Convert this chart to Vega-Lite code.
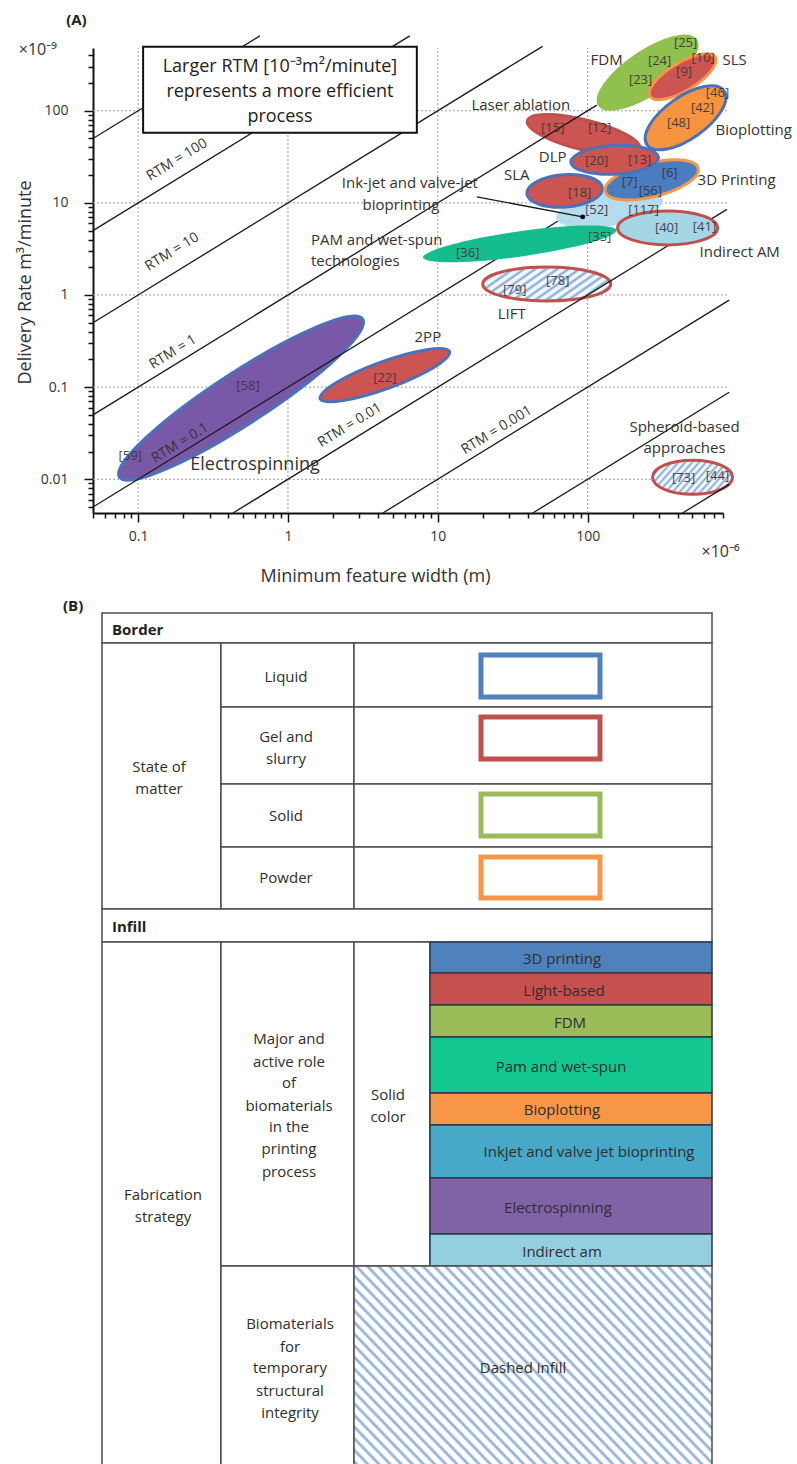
{
"$schema":"https://vega.github.io/schema/vega-lite/v6.json",
"width":797,"height":1464,"autosize":{"type":"none"},"padding":0,"background":"#ffffff",
"config":{"view":{"stroke":null},"font":"Open Sans"},
"datasets":{
"ellipses":[
{"tech":"Electrospinning","w":0.4861,"d":0.07596,"infill":"Electrospinning","border":"Liquid"},
{"tech":"2PP","w":4.433,"d":0.1351,"infill":"Light-based","border":"Liquid"},
{"tech":"Laser ablation","w":94.03,"d":54.84,"infill":"Light-based","border":"Gel"},
{"tech":"LIFT","w":53.3,"d":1.317,"infill":"Dashed","border":"Gel"},
{"tech":"Spheroid-based","w":501.2,"d":0.01051,"infill":"Dashed","border":"Gel"},
{"tech":"Inkjet","w":140,"d":8.6,"infill":"Inkjet","border":"None"},
{"tech":"PAM","w":35.2,"d":3.583,"infill":"PAM","border":"None"},
{"tech":"Indirect AM","w":341.5,"d":5.349,"infill":"Indirect AM","border":"Gel"},
{"tech":"SLA","w":70.26,"d":13.5,"infill":"Light-based","border":"Liquid"},
{"tech":"3D Printing","w":267.1,"d":17.78,"infill":"3D printing","border":"Powder"},
{"tech":"DLP","w":151.4,"d":29.34,"infill":"Light-based","border":"Liquid"},
{"tech":"FDM","w":251.2,"d":258.8,"infill":"FDM","border":"Solid"},
{"tech":"SLS","w":429.9,"d":234.1,"infill":"Light-based","border":"Powder"},
{"tech":"Bioplotting","w":450.2,"d":83.9,"infill":"Bioplotting","border":"Liquid"}
],
"segments":[
{"kind":"grid","w":0.1,"d":0.0043,"w2":0.1,"d2":480},
{"kind":"grid","w":1,"d":0.0043,"w2":1,"d2":480},
{"kind":"grid","w":10,"d":0.0043,"w2":10,"d2":480},
{"kind":"grid","w":100,"d":0.0043,"w2":100,"d2":480},
{"kind":"grid","w":0.05,"d":0.01,"w2":850,"d2":0.01},
{"kind":"grid","w":0.05,"d":0.1,"w2":850,"d2":0.1},
{"kind":"grid","w":0.05,"d":1,"w2":850,"d2":1},
{"kind":"grid","w":0.05,"d":10,"w2":850,"d2":10},
{"kind":"grid","w":0.05,"d":100,"w2":850,"d2":100},
{"kind":"rtm","w":0.05,"d":50,"w2":0.65,"d2":650},
{"kind":"rtm","w":0.05,"d":5,"w2":6.5,"d2":650},
{"kind":"rtm","w":0.05,"d":0.5,"w2":50,"d2":500},
{"kind":"rtm","w":0.05,"d":0.05,"w2":115,"d2":115},
{"kind":"rtm","w":0.05,"d":0.005,"w2":80,"d2":8},
{"kind":"rtm","w":0.43,"d":0.0043,"w2":850,"d2":8.5},
{"kind":"rtm","w":4.3,"d":0.0043,"w2":880,"d2":0.88},
{"kind":"rtm","w":43,"d":0.0043,"w2":880,"d2":0.088},
{"kind":"rtm","w":430,"d":0.0043,"w2":880,"d2":0.0088},
{"kind":"leader","w":18.2,"d":11.62,"w2":92.6,"d2":7.04}
],
"box":[{"w":0.108,"d":57.68,"w2":7.244,"d2":496.3}],
"dots":[{"w":92.6,"d":7.04}],
"labels":[
{"kind":"tech","txt":"FDM","w":133.8,"d":358.3},
{"kind":"tech","txt":"Laser ablation","w":35.8,"d":116.2},
{"kind":"tech","txt":"DLP","w":58.44,"d":31.6},
{"kind":"tech","txt":"SLA","w":33.6,"d":20.2},
{"kind":"tech","txt":"Ink-jet and valve-jet","w":6.51,"d":16.5},
{"kind":"tech","txt":"bioprinting","w":5.67,"d":9.51},
{"kind":"tech","txt":"LIFT","w":31.1,"d":0.6216},
{"kind":"tech","txt":"2PP","w":8.58,"d":0.35},
{"kind":"tech","txt":"Spheroid-based","w":443,"d":0.0367},
{"kind":"tech","txt":"approaches","w":443,"d":0.0217},
{"kind":"big","txt":"Electrospinning","w":0.603,"d":0.0142},
{"kind":"techL","txt":"SLS","w":794.3,"d":358.3},
{"kind":"techL","txt":"Bioplotting","w":713.5,"d":62.2},
{"kind":"techL","txt":"3D Printing","w":541.2,"d":17.78},
{"kind":"techL","txt":"Indirect AM","w":558,"d":2.934},
{"kind":"techL","txt":"PAM and wet-spun","w":1.423,"d":3.96},
{"kind":"techL","txt":"technologies","w":1.423,"d":2.34},
{"kind":"rtm","txt":"RTM = 100","w":0.182,"d":29.3},
{"kind":"rtm","txt":"RTM = 10","w":0.1685,"d":2.93},
{"kind":"rtm","txt":"RTM = 1","w":0.171,"d":0.24},
{"kind":"rtm","txt":"RTM = 0.1","w":0.1905,"d":0.0246},
{"kind":"rtm","txt":"RTM = 0.01","w":2.59,"d":0.0386},
{"kind":"rtm","txt":"RTM = 0.001","w":24.7,"d":0.0341},
{"kind":"box","txt":"Larger RTM [10⁻³m²/minute]","w":0.8843,"d":300.8},
{"kind":"box","txt":"represents a more efficient","w":0.8843,"d":160.9},
{"kind":"box","txt":"process","w":0.8843,"d":86.05},
{"kind":"mult","txt":"×10⁻⁹","w":0.0214,"d":460},
{"kind":"mult","txt":"×10⁻⁶","w":770,"d":0.00161},
{"kind":"panel","txt":"(A)","w":0.0331,"d":975},
{"kind":"ref","txt":"[23]","w":225.6,"d":217.3},
{"kind":"ref","txt":"[24]","w":302,"d":349.6},
{"kind":"ref","txt":"[25]","w":450.2,"d":548.4},
{"kind":"ref","txt":"[10]","w":590,"d":372},
{"kind":"ref","txt":"[9]","w":440,"d":262},
{"kind":"ref","txt":"[46]","w":735.6,"d":156.9},
{"kind":"ref","txt":"[42]","w":584.5,"d":107.8},
{"kind":"ref","txt":"[48]","w":404.2,"d":74.05},
{"kind":"ref","txt":"[15]","w":58.44,"d":65.35},
{"kind":"ref","txt":"[12]","w":120.2,"d":65.35},
{"kind":"ref","txt":"[20]","w":114.8,"d":28.61},
{"kind":"ref","txt":"[13]","w":222.2,"d":29.34},
{"kind":"ref","txt":"[7]","w":190.5,"d":16.92},
{"kind":"ref","txt":"[6]","w":352.2,"d":21.19},
{"kind":"ref","txt":"[56]","w":262,"d":13.4},
{"kind":"ref","txt":"[18]","w":88.4,"d":12.84},
{"kind":"ref","txt":"[52]","w":114.8,"d":8.393},
{"kind":"ref","txt":"[117]","w":236,"d":8.4},
{"kind":"ref","txt":"[40]","w":336.3,"d":5.349},
{"kind":"ref","txt":"[41]","w":602.6,"d":5.484},
{"kind":"ref","txt":"[35]","w":120.2,"d":4.271},
{"kind":"ref","txt":"[36]","w":15.85,"d":2.861},
{"kind":"ref","txt":"[79]","w":32.62,"d":1.133},
{"kind":"ref","txt":"[78]","w":63.1,"d":1.419},
{"kind":"ref","txt":"[22]","w":4.433,"d":0.1253},
{"kind":"ref","txt":"[58]","w":0.5412,"d":0.1025},
{"kind":"ref","txt":"[59]","w":0.08846,"d":0.01778},
{"kind":"ref","txt":"[73]","w":436.5,"d":0.01025},
{"kind":"ref","txt":"[44]","w":735.6,"d":0.01078}
],
"cells":[
{"x1":0,"x2":610,"y1":0,"y2":30},
{"x1":0,"x2":119,"y1":30,"y2":296},
{"x1":119,"x2":252,"y1":30,"y2":94},
{"x1":252,"x2":610,"y1":30,"y2":94},
{"x1":119,"x2":252,"y1":94,"y2":171},
{"x1":252,"x2":610,"y1":94,"y2":171},
{"x1":119,"x2":252,"y1":171,"y2":234},
{"x1":252,"x2":610,"y1":171,"y2":234},
{"x1":119,"x2":252,"y1":234,"y2":296},
{"x1":252,"x2":610,"y1":234,"y2":296},
{"x1":0,"x2":610,"y1":296,"y2":329},
{"x1":0,"x2":119,"y1":329,"y2":860},
{"x1":119,"x2":252,"y1":329,"y2":653},
{"x1":252,"x2":328,"y1":329,"y2":653},
{"x1":119,"x2":252,"y1":653,"y2":860}
],
"bars":[
{"cat":"3D printing","x1":328,"x2":610,"y1":329,"y2":360},
{"cat":"Light-based","x1":328,"x2":610,"y1":360,"y2":392},
{"cat":"FDM","x1":328,"x2":610,"y1":392,"y2":424},
{"cat":"Pam and wet-spun","x1":328,"x2":610,"y1":424,"y2":480},
{"cat":"Bioplotting","x1":328,"x2":610,"y1":480,"y2":512},
{"cat":"Inkjet and valve jet bioprinting","x1":328,"x2":610,"y1":512,"y2":565},
{"cat":"Electrospinning","x1":328,"x2":610,"y1":565,"y2":621},
{"cat":"Indirect am","x1":328,"x2":610,"y1":621,"y2":653}
],
"dashed":[{"x1":252,"x2":610,"y1":653,"y2":860}],
"swatches":[
{"state":"Liquid","x1":379,"x2":498,"y1":42,"y2":84},
{"state":"Gel and slurry","x1":379,"x2":498,"y1":104,"y2":146},
{"state":"Solid","x1":379,"x2":498,"y1":181,"y2":223},
{"state":"Powder","x1":379,"x2":498,"y1":244,"y2":285}
],
"ttext":[
{"txt":"State of","x1":57,"y1":154},
{"txt":"matter","x1":57,"y1":176},
{"txt":"Liquid","x1":184,"y1":64},
{"txt":"Gel and","x1":184,"y1":124},
{"txt":"slurry","x1":184,"y1":146},
{"txt":"Solid","x1":184,"y1":203},
{"txt":"Powder","x1":184,"y1":265},
{"txt":"Major and","x1":187,"y1":426},
{"txt":"active role","x1":187,"y1":449},
{"txt":"of","x1":187,"y1":470},
{"txt":"biomaterials","x1":187,"y1":493},
{"txt":"in the","x1":187,"y1":514},
{"txt":"printing","x1":187,"y1":536},
{"txt":"process","x1":187,"y1":559},
{"txt":"Solid","x1":286,"y1":482},
{"txt":"color","x1":286,"y1":504},
{"txt":"Fabrication","x1":61,"y1":582},
{"txt":"strategy","x1":61,"y1":604},
{"txt":"Biomaterials","x1":188,"y1":711},
{"txt":"for","x1":188,"y1":734},
{"txt":"temporary","x1":188,"y1":755},
{"txt":"structural","x1":188,"y1":778},
{"txt":"integrity","x1":188,"y1":800},
{"txt":"Dashed infill","x1":421,"y1":755},
{"txt":"3D printing","x1":460,"y1":346},
{"txt":"Light-based","x1":462,"y1":378},
{"txt":"FDM","x1":468,"y1":410},
{"txt":"Pam and wet-spun","x1":459,"y1":454},
{"txt":"Bioplotting","x1":460,"y1":497},
{"txt":"Inkjet and valve jet bioprinting","x1":487,"y1":539},
{"txt":"Electrospinning","x1":456,"y1":595},
{"txt":"Indirect am","x1":460,"y1":639}
],
"tbold":[
{"txt":"Border","x1":10,"y1":17},
{"txt":"Infill","x1":10,"y1":314},
{"txt":"(B)","x1":-39,"y1":-7}
]
},
"resolve":{"scale":{"x":"independent","y":"independent","fill":"independent","stroke":"independent"}},
"layer":[
{
"encoding":{
"x":{"field":"w","type":"quantitative",
"scale":{"type":"log","domain":[0.05,800],"range":[93,723],"nice":false},
"axis":{"orient":"bottom","offset":-951,
"values":[0.05,0.06,0.07,0.08,0.09,0.1,0.2,0.3,0.4,0.5,0.6,0.7,0.8,0.9,1,2,3,4,5,6,7,8,9,10,20,30,40,50,60,70,80,90,100,200,300,400,500,600,700,800],
"labelExpr":"abs(log(datum.value)/LN10 - round(log(datum.value)/LN10)) < 0.001 ? format(datum.value, '~g') : ''",
"tickSize":{"condition":{"test":"abs(log(datum.value)/LN10 - round(log(datum.value)/LN10)) < 0.001","value":9},"value":5},
"grid":false,"domainColor":"#111111","domainWidth":2,"tickColor":"#111111","tickWidth":1.5,
"labelFont":"Open Sans","labelFontSize":14,"labelColor":"#333333","labelPadding":7,"labelOverlap":false,"labelFlush":false,"labelBound":false,
"title":"Minimum feature width (m)","titleFont":"Open Sans","titleFontSize":18,"titleFontWeight":"normal","titleColor":"#333333",
"titleX":375,"titleY":63,"titleAlign":"center","titleBaseline":"middle"}},
"y":{"field":"d","type":"quantitative",
"scale":{"type":"log","domain":[0.0043,480],"range":[513,48],"nice":false},
"axis":{"orient":"left","offset":-93,
"values":[0.005,0.006,0.007,0.008,0.009,0.01,0.02,0.03,0.04,0.05,0.06,0.07,0.08,0.09,0.1,0.2,0.3,0.4,0.5,0.6,0.7,0.8,0.9,1,2,3,4,5,6,7,8,9,10,20,30,40,50,60,70,80,90,100,200,300,400],
"labelExpr":"abs(log(datum.value)/LN10 - round(log(datum.value)/LN10)) < 0.001 ? format(datum.value, '~g') : ''",
"tickSize":{"condition":{"test":"abs(log(datum.value)/LN10 - round(log(datum.value)/LN10)) < 0.001","value":9},"value":5},
"grid":false,"domainColor":"#111111","domainWidth":2,"tickColor":"#111111","tickWidth":1.5,
"labelFont":"Open Sans","labelFontSize":14,"labelColor":"#333333","labelPadding":16,"labelOverlap":false,"labelFlush":false,"labelBound":false,
"title":"Delivery Rate m³/minute","titleFont":"Open Sans","titleFontSize":18,"titleFontWeight":"normal","titleColor":"#333333",
"titleX":-68,"titleY":282,"titleAngle":270,"titleAlign":"center","titleBaseline":"middle"}}
},
"layer":[
{"data":{"name":"segments"},"transform":[{"filter":"datum.kind === 'grid'"}],
"mark":{"type":"rule","stroke":"#9a9a9a","strokeWidth":1,"strokeDash":[2,2]},
"encoding":{"x2":{"field":"w2"},"y2":{"field":"d2"}}},
{"data":{"name":"ellipses"},"transform":[{"filter":{"field":"tech","oneOf":["Electrospinning","2PP","Laser ablation"]}}],
"mark":{"type":"point","filled":true,"size":4,"opacity":1,"strokeWidth":3},
"encoding":{
"shape":{"field":"tech","type":"nominal","legend":null,"scale":{"domain":["Electrospinning","2PP","Laser ablation","LIFT","Spheroid-based","Inkjet","PAM","Indirect AM","SLA","3D Printing","DLP","FDM","SLS","Bioplotting"],"range":["M -121.6 79 A 145 26 -33 0 1 121.6 -79 A 145 26 -33 0 1 -121.6 79 Z","M -64.8 23.6 A 69 14 -20 0 1 64.8 -23.6 A 69 14 -20 0 1 -64.8 23.6 Z","M -56.3 -14 A 58 15 14 0 1 56.3 14 A 58 15 14 0 1 -56.3 -14 Z","M -64 0 A 64 17 0 0 1 64 0 A 64 17 0 0 1 -64 0 Z","M -40 0 A 40 17 0 0 1 40 0 A 40 17 0 0 1 -40 0 Z","M -53.2 9.4 A 54 17 -10 0 1 53.2 -9.4 A 54 17 -10 0 1 -53.2 9.4 Z","M -97 13.6 A 98 13 -8 0 1 97 -13.6 A 98 13 -8 0 1 -97 13.6 Z","M -50 0 A 50 17 0 0 1 50 0 A 50 17 0 0 1 -50 0 Z","M -37.9 2.7 A 38 16.5 -4 0 1 37.9 -2.7 A 38 16.5 -4 0 1 -37.9 2.7 Z","M -46.6 11.6 A 48 17 -14 0 1 46.6 -11.6 A 48 17 -14 0 1 -46.6 11.6 Z","M -43.9 2.3 A 44 15 -3 0 1 43.9 -2.3 A 44 15 -3 0 1 -43.9 2.3 Z","M -48.1 32.4 A 58 21 -34 0 1 48.1 -32.4 A 58 21 -34 0 1 -48.1 32.4 Z","M -32.6 19.6 A 38 14 -31 0 1 32.6 -19.6 A 38 14 -31 0 1 -32.6 19.6 Z","M -38.5 27 A 47 21 -35 0 1 38.5 -27 A 47 21 -35 0 1 -38.5 27 Z"]}},
"fill":{"field":"infill","type":"nominal","legend":null,"scale":{"domain":["Electrospinning","Light-based","Inkjet","PAM","Indirect AM","3D printing","FDM","Bioplotting","Dashed"],"range":["#7a58a8","#cc5552","#b4dbee","#16bd8c","#a5d6e6","#4a7cc0","#90c04e","#f7943f","#dde9f5"]}},
"stroke":{"field":"border","type":"nominal","legend":null,"scale":{"domain":["Liquid","Gel","Solid","Powder","None"],"range":["#4a72bb","#c0504d","#90c04e","#f79646","rgba(0,0,0,0)"]}}
}},
{"data":{"name":"ellipses"},"transform":[{"filter":{"field":"tech","oneOf":["LIFT","Spheroid-based"]}}],
"mark":{"type":"point","filled":true,"size":4,"opacity":1,"strokeWidth":3,
"fill":{"gradient":"linear","x1":0,"y1":0,"x2":1.21,"y2":0.46,"stops":[
{"offset":0,"color":"#7fa4d4"},{"offset":0.02,"color":"#f2f7fc"},{"offset":0.042,"color":"#f2f7fc"},
{"offset":0.0625,"color":"#7fa4d4"},{"offset":0.0825,"color":"#f2f7fc"},{"offset":0.1045,"color":"#f2f7fc"},
{"offset":0.125,"color":"#7fa4d4"},{"offset":0.145,"color":"#f2f7fc"},{"offset":0.167,"color":"#f2f7fc"},
{"offset":0.1875,"color":"#7fa4d4"},{"offset":0.2075,"color":"#f2f7fc"},{"offset":0.2295,"color":"#f2f7fc"},
{"offset":0.25,"color":"#7fa4d4"},{"offset":0.27,"color":"#f2f7fc"},{"offset":0.292,"color":"#f2f7fc"},
{"offset":0.3125,"color":"#7fa4d4"},{"offset":0.3325,"color":"#f2f7fc"},{"offset":0.3545,"color":"#f2f7fc"},
{"offset":0.375,"color":"#7fa4d4"},{"offset":0.395,"color":"#f2f7fc"},{"offset":0.417,"color":"#f2f7fc"},
{"offset":0.4375,"color":"#7fa4d4"},{"offset":0.4575,"color":"#f2f7fc"},{"offset":0.4795,"color":"#f2f7fc"},
{"offset":0.5,"color":"#7fa4d4"},{"offset":0.52,"color":"#f2f7fc"},{"offset":0.542,"color":"#f2f7fc"},
{"offset":0.5625,"color":"#7fa4d4"},{"offset":0.5825,"color":"#f2f7fc"},{"offset":0.6045,"color":"#f2f7fc"},
{"offset":0.625,"color":"#7fa4d4"},{"offset":0.645,"color":"#f2f7fc"},{"offset":0.667,"color":"#f2f7fc"},
{"offset":0.6875,"color":"#7fa4d4"},{"offset":0.7075,"color":"#f2f7fc"},{"offset":0.7295,"color":"#f2f7fc"},
{"offset":0.75,"color":"#7fa4d4"},{"offset":0.77,"color":"#f2f7fc"},{"offset":0.792,"color":"#f2f7fc"},
{"offset":0.8125,"color":"#7fa4d4"},{"offset":0.8325,"color":"#f2f7fc"},{"offset":0.8545,"color":"#f2f7fc"},
{"offset":0.875,"color":"#7fa4d4"},{"offset":0.895,"color":"#f2f7fc"},{"offset":0.917,"color":"#f2f7fc"},
{"offset":0.9375,"color":"#7fa4d4"},{"offset":0.9575,"color":"#f2f7fc"},{"offset":0.9795,"color":"#f2f7fc"},
{"offset":1,"color":"#7fa4d4"}]}},
"encoding":{
"shape":{"field":"tech","type":"nominal","legend":null,"scale":{"domain":["Electrospinning","2PP","Laser ablation","LIFT","Spheroid-based","Inkjet","PAM","Indirect AM","SLA","3D Printing","DLP","FDM","SLS","Bioplotting"],"range":["M -121.6 79 A 145 26 -33 0 1 121.6 -79 A 145 26 -33 0 1 -121.6 79 Z","M -64.8 23.6 A 69 14 -20 0 1 64.8 -23.6 A 69 14 -20 0 1 -64.8 23.6 Z","M -56.3 -14 A 58 15 14 0 1 56.3 14 A 58 15 14 0 1 -56.3 -14 Z","M -64 0 A 64 17 0 0 1 64 0 A 64 17 0 0 1 -64 0 Z","M -40 0 A 40 17 0 0 1 40 0 A 40 17 0 0 1 -40 0 Z","M -53.2 9.4 A 54 17 -10 0 1 53.2 -9.4 A 54 17 -10 0 1 -53.2 9.4 Z","M -97 13.6 A 98 13 -8 0 1 97 -13.6 A 98 13 -8 0 1 -97 13.6 Z","M -50 0 A 50 17 0 0 1 50 0 A 50 17 0 0 1 -50 0 Z","M -37.9 2.7 A 38 16.5 -4 0 1 37.9 -2.7 A 38 16.5 -4 0 1 -37.9 2.7 Z","M -46.6 11.6 A 48 17 -14 0 1 46.6 -11.6 A 48 17 -14 0 1 -46.6 11.6 Z","M -43.9 2.3 A 44 15 -3 0 1 43.9 -2.3 A 44 15 -3 0 1 -43.9 2.3 Z","M -48.1 32.4 A 58 21 -34 0 1 48.1 -32.4 A 58 21 -34 0 1 -48.1 32.4 Z","M -32.6 19.6 A 38 14 -31 0 1 32.6 -19.6 A 38 14 -31 0 1 -32.6 19.6 Z","M -38.5 27 A 47 21 -35 0 1 38.5 -27 A 47 21 -35 0 1 -38.5 27 Z"]}},
"stroke":{"field":"border","type":"nominal","legend":null,"scale":{"domain":["Liquid","Gel","Solid","Powder","None"],"range":["#4a72bb","#c0504d","#90c04e","#f79646","rgba(0,0,0,0)"]}}
}},
{"data":{"name":"segments"},"transform":[{"filter":"datum.kind === 'rtm'"}],
"mark":{"type":"rule","stroke":"#1a1a1a","strokeWidth":1.3},
"encoding":{"x2":{"field":"w2"},"y2":{"field":"d2"}}},
{"data":{"name":"ellipses"},"transform":[{"filter":{"field":"tech","oneOf":["Inkjet","PAM","Indirect AM","SLA","3D Printing","DLP","FDM","SLS","Bioplotting"]}}],
"mark":{"type":"point","filled":true,"size":4,"opacity":1,"strokeWidth":3},
"encoding":{
"shape":{"field":"tech","type":"nominal","legend":null,"scale":{"domain":["Electrospinning","2PP","Laser ablation","LIFT","Spheroid-based","Inkjet","PAM","Indirect AM","SLA","3D Printing","DLP","FDM","SLS","Bioplotting"],"range":["M -121.6 79 A 145 26 -33 0 1 121.6 -79 A 145 26 -33 0 1 -121.6 79 Z","M -64.8 23.6 A 69 14 -20 0 1 64.8 -23.6 A 69 14 -20 0 1 -64.8 23.6 Z","M -56.3 -14 A 58 15 14 0 1 56.3 14 A 58 15 14 0 1 -56.3 -14 Z","M -64 0 A 64 17 0 0 1 64 0 A 64 17 0 0 1 -64 0 Z","M -40 0 A 40 17 0 0 1 40 0 A 40 17 0 0 1 -40 0 Z","M -53.2 9.4 A 54 17 -10 0 1 53.2 -9.4 A 54 17 -10 0 1 -53.2 9.4 Z","M -97 13.6 A 98 13 -8 0 1 97 -13.6 A 98 13 -8 0 1 -97 13.6 Z","M -50 0 A 50 17 0 0 1 50 0 A 50 17 0 0 1 -50 0 Z","M -37.9 2.7 A 38 16.5 -4 0 1 37.9 -2.7 A 38 16.5 -4 0 1 -37.9 2.7 Z","M -46.6 11.6 A 48 17 -14 0 1 46.6 -11.6 A 48 17 -14 0 1 -46.6 11.6 Z","M -43.9 2.3 A 44 15 -3 0 1 43.9 -2.3 A 44 15 -3 0 1 -43.9 2.3 Z","M -48.1 32.4 A 58 21 -34 0 1 48.1 -32.4 A 58 21 -34 0 1 -48.1 32.4 Z","M -32.6 19.6 A 38 14 -31 0 1 32.6 -19.6 A 38 14 -31 0 1 -32.6 19.6 Z","M -38.5 27 A 47 21 -35 0 1 38.5 -27 A 47 21 -35 0 1 -38.5 27 Z"]}},
"fill":{"field":"infill","type":"nominal","legend":null,"scale":{"domain":["Electrospinning","Light-based","Inkjet","PAM","Indirect AM","3D printing","FDM","Bioplotting","Dashed"],"range":["#7a58a8","#cc5552","#b4dbee","#16bd8c","#a5d6e6","#4a7cc0","#90c04e","#f7943f","#dde9f5"]}},
"stroke":{"field":"border","type":"nominal","legend":null,"scale":{"domain":["Liquid","Gel","Solid","Powder","None"],"range":["#4a72bb","#c0504d","#90c04e","#f79646","rgba(0,0,0,0)"]}}
}},
{"data":{"name":"box"},"mark":{"type":"rect","fill":"#ffffff","stroke":"#111111","strokeWidth":2},
"encoding":{"x2":{"field":"w2"},"y2":{"field":"d2"}}},
{"data":{"name":"segments"},"transform":[{"filter":"datum.kind === 'leader'"}],
"mark":{"type":"rule","stroke":"#1a1a1a","strokeWidth":1.3},
"encoding":{"x2":{"field":"w2"},"y2":{"field":"d2"}}},
{"data":{"name":"dots"},"mark":{"type":"point","shape":"circle","filled":true,"size":24,"opacity":1,"color":"#000000"}},
{"data":{"name":"labels"},"transform":[{"filter":"datum.kind === 'tech'"}],
"mark":{"type":"text","font":"Open Sans","fontSize":15,"color":"#333333"},"encoding":{"text":{"field":"txt"}}},
{"data":{"name":"labels"},"transform":[{"filter":"datum.kind === 'big'"}],
"mark":{"type":"text","font":"Open Sans","fontSize":18,"color":"#333333"},"encoding":{"text":{"field":"txt"}}},
{"data":{"name":"labels"},"transform":[{"filter":"datum.kind === 'techL'"}],
"mark":{"type":"text","font":"Open Sans","fontSize":15,"color":"#333333","align":"left"},"encoding":{"text":{"field":"txt"}}},
{"data":{"name":"labels"},"transform":[{"filter":"datum.kind === 'rtm'"}],
"mark":{"type":"text","font":"Open Sans","fontSize":14,"color":"#333333","angle":-31.5},"encoding":{"text":{"field":"txt"}}},
{"data":{"name":"labels"},"transform":[{"filter":"datum.kind === 'box'"}],
"mark":{"type":"text","font":"Open Sans","fontSize":18,"color":"#222222"},"encoding":{"text":{"field":"txt"}}},
{"data":{"name":"labels"},"transform":[{"filter":"datum.kind === 'mult'"}],
"mark":{"type":"text","font":"Open Sans","fontSize":16,"color":"#333333"},"encoding":{"text":{"field":"txt"}}},
{"data":{"name":"labels"},"transform":[{"filter":"datum.kind === 'panel'"}],
"mark":{"type":"text","font":"Open Sans","fontSize":15,"fontWeight":"bold","color":"#222222","align":"left"},"encoding":{"text":{"field":"txt"}}},
{"data":{"name":"labels"},"transform":[{"filter":"datum.kind === 'ref'"}],
"mark":{"type":"text","font":"Open Sans","fontSize":13,"color":"#3a3434","opacity":0.9},"encoding":{"text":{"field":"txt"}}}
]
},
{
"encoding":{
"x":{"field":"x1","type":"quantitative","scale":{"domain":[0,610],"range":[102,712],"nice":false,"zero":false},"axis":null},
"y":{"field":"y1","type":"quantitative","scale":{"domain":[0,851],"range":[613,1464],"nice":false,"zero":false},"axis":null}
},
"layer":[
{"data":{"name":"cells"},"mark":{"type":"rect","fill":"#ffffff","stroke":"#4d4d4d","strokeWidth":1.5},
"encoding":{"x2":{"field":"x2"},"y2":{"field":"y2"}}},
{"data":{"name":"bars"},"mark":{"type":"rect","stroke":"#2b3a4a","strokeWidth":1.5},
"encoding":{"x2":{"field":"x2"},"y2":{"field":"y2"},
"fill":{"field":"cat","type":"nominal","legend":null,"scale":{"domain":["3D printing","Light-based","FDM","Pam and wet-spun","Bioplotting","Inkjet and valve jet bioprinting","Electrospinning","Indirect am"],"range":["#4f81bd","#c6504d","#9bbb59","#12c890","#f79646","#47a8c8","#8062a6","#93cfdf"]}}}},
{"data":{"name":"dashed"},"mark":{"type":"rect","stroke":"#4d4d4d","strokeWidth":1.5,
"fill":{"gradient":"linear","x1":0,"y1":1,"x2":1.19,"y2":0.34,"stops":[
{"offset":0,"color":"#86a7d2"},{"offset":0.006,"color":"#ffffff"},{"offset":0.014,"color":"#ffffff"},
{"offset":0.02,"color":"#86a7d2"},{"offset":0.026,"color":"#ffffff"},{"offset":0.034,"color":"#ffffff"},
{"offset":0.04,"color":"#86a7d2"},{"offset":0.046,"color":"#ffffff"},{"offset":0.054,"color":"#ffffff"},
{"offset":0.06,"color":"#86a7d2"},{"offset":0.066,"color":"#ffffff"},{"offset":0.074,"color":"#ffffff"},
{"offset":0.08,"color":"#86a7d2"},{"offset":0.086,"color":"#ffffff"},{"offset":0.094,"color":"#ffffff"},
{"offset":0.1,"color":"#86a7d2"},{"offset":0.106,"color":"#ffffff"},{"offset":0.114,"color":"#ffffff"},
{"offset":0.12,"color":"#86a7d2"},{"offset":0.126,"color":"#ffffff"},{"offset":0.134,"color":"#ffffff"},
{"offset":0.14,"color":"#86a7d2"},{"offset":0.146,"color":"#ffffff"},{"offset":0.154,"color":"#ffffff"},
{"offset":0.16,"color":"#86a7d2"},{"offset":0.166,"color":"#ffffff"},{"offset":0.174,"color":"#ffffff"},
{"offset":0.18,"color":"#86a7d2"},{"offset":0.186,"color":"#ffffff"},{"offset":0.194,"color":"#ffffff"},
{"offset":0.2,"color":"#86a7d2"},{"offset":0.206,"color":"#ffffff"},{"offset":0.214,"color":"#ffffff"},
{"offset":0.22,"color":"#86a7d2"},{"offset":0.226,"color":"#ffffff"},{"offset":0.234,"color":"#ffffff"},
{"offset":0.24,"color":"#86a7d2"},{"offset":0.246,"color":"#ffffff"},{"offset":0.254,"color":"#ffffff"},
{"offset":0.26,"color":"#86a7d2"},{"offset":0.266,"color":"#ffffff"},{"offset":0.274,"color":"#ffffff"},
{"offset":0.28,"color":"#86a7d2"},{"offset":0.286,"color":"#ffffff"},{"offset":0.294,"color":"#ffffff"},
{"offset":0.3,"color":"#86a7d2"},{"offset":0.306,"color":"#ffffff"},{"offset":0.314,"color":"#ffffff"},
{"offset":0.32,"color":"#86a7d2"},{"offset":0.326,"color":"#ffffff"},{"offset":0.334,"color":"#ffffff"},
{"offset":0.34,"color":"#86a7d2"},{"offset":0.346,"color":"#ffffff"},{"offset":0.354,"color":"#ffffff"},
{"offset":0.36,"color":"#86a7d2"},{"offset":0.366,"color":"#ffffff"},{"offset":0.374,"color":"#ffffff"},
{"offset":0.38,"color":"#86a7d2"},{"offset":0.386,"color":"#ffffff"},{"offset":0.394,"color":"#ffffff"},
{"offset":0.4,"color":"#86a7d2"},{"offset":0.406,"color":"#ffffff"},{"offset":0.414,"color":"#ffffff"},
{"offset":0.42,"color":"#86a7d2"},{"offset":0.426,"color":"#ffffff"},{"offset":0.434,"color":"#ffffff"},
{"offset":0.44,"color":"#86a7d2"},{"offset":0.446,"color":"#ffffff"},{"offset":0.454,"color":"#ffffff"},
{"offset":0.46,"color":"#86a7d2"},{"offset":0.466,"color":"#ffffff"},{"offset":0.474,"color":"#ffffff"},
{"offset":0.48,"color":"#86a7d2"},{"offset":0.486,"color":"#ffffff"},{"offset":0.494,"color":"#ffffff"},
{"offset":0.5,"color":"#86a7d2"},{"offset":0.506,"color":"#ffffff"},{"offset":0.514,"color":"#ffffff"},
{"offset":0.52,"color":"#86a7d2"},{"offset":0.526,"color":"#ffffff"},{"offset":0.534,"color":"#ffffff"},
{"offset":0.54,"color":"#86a7d2"},{"offset":0.546,"color":"#ffffff"},{"offset":0.554,"color":"#ffffff"},
{"offset":0.56,"color":"#86a7d2"},{"offset":0.566,"color":"#ffffff"},{"offset":0.574,"color":"#ffffff"},
{"offset":0.58,"color":"#86a7d2"},{"offset":0.586,"color":"#ffffff"},{"offset":0.594,"color":"#ffffff"},
{"offset":0.6,"color":"#86a7d2"},{"offset":0.606,"color":"#ffffff"},{"offset":0.614,"color":"#ffffff"},
{"offset":0.62,"color":"#86a7d2"},{"offset":0.626,"color":"#ffffff"},{"offset":0.634,"color":"#ffffff"},
{"offset":0.64,"color":"#86a7d2"},{"offset":0.646,"color":"#ffffff"},{"offset":0.654,"color":"#ffffff"},
{"offset":0.66,"color":"#86a7d2"},{"offset":0.666,"color":"#ffffff"},{"offset":0.674,"color":"#ffffff"},
{"offset":0.68,"color":"#86a7d2"},{"offset":0.686,"color":"#ffffff"},{"offset":0.694,"color":"#ffffff"},
{"offset":0.7,"color":"#86a7d2"},{"offset":0.706,"color":"#ffffff"},{"offset":0.714,"color":"#ffffff"},
{"offset":0.72,"color":"#86a7d2"},{"offset":0.726,"color":"#ffffff"},{"offset":0.734,"color":"#ffffff"},
{"offset":0.74,"color":"#86a7d2"},{"offset":0.746,"color":"#ffffff"},{"offset":0.754,"color":"#ffffff"},
{"offset":0.76,"color":"#86a7d2"},{"offset":0.766,"color":"#ffffff"},{"offset":0.774,"color":"#ffffff"},
{"offset":0.78,"color":"#86a7d2"},{"offset":0.786,"color":"#ffffff"},{"offset":0.794,"color":"#ffffff"},
{"offset":0.8,"color":"#86a7d2"},{"offset":0.806,"color":"#ffffff"},{"offset":0.814,"color":"#ffffff"},
{"offset":0.82,"color":"#86a7d2"},{"offset":0.826,"color":"#ffffff"},{"offset":0.834,"color":"#ffffff"},
{"offset":0.84,"color":"#86a7d2"},{"offset":0.846,"color":"#ffffff"},{"offset":0.854,"color":"#ffffff"},
{"offset":0.86,"color":"#86a7d2"},{"offset":0.866,"color":"#ffffff"},{"offset":0.874,"color":"#ffffff"},
{"offset":0.88,"color":"#86a7d2"},{"offset":0.886,"color":"#ffffff"},{"offset":0.894,"color":"#ffffff"},
{"offset":0.9,"color":"#86a7d2"},{"offset":0.906,"color":"#ffffff"},{"offset":0.914,"color":"#ffffff"},
{"offset":0.92,"color":"#86a7d2"},{"offset":0.926,"color":"#ffffff"},{"offset":0.934,"color":"#ffffff"},
{"offset":0.94,"color":"#86a7d2"},{"offset":0.946,"color":"#ffffff"},{"offset":0.954,"color":"#ffffff"},
{"offset":0.96,"color":"#86a7d2"},{"offset":0.966,"color":"#ffffff"},{"offset":0.974,"color":"#ffffff"},
{"offset":0.98,"color":"#86a7d2"},{"offset":0.986,"color":"#ffffff"},{"offset":0.994,"color":"#ffffff"},
{"offset":1,"color":"#86a7d2"}]}},
"encoding":{"x2":{"field":"x2"},"y2":{"field":"y2"}}},
{"data":{"name":"swatches"},"mark":{"type":"rect","filled":false,"strokeWidth":5},
"encoding":{"x2":{"field":"x2"},"y2":{"field":"y2"},
"stroke":{"field":"state","type":"nominal","legend":null,"scale":{"domain":["Liquid","Gel and slurry","Solid","Powder"],"range":["#4f81bd","#c0504d","#9bbb59","#f79646"]}}}},
{"data":{"name":"ttext"},"mark":{"type":"text","font":"Open Sans","fontSize":15,"color":"#2e2e2e"},"encoding":{"text":{"field":"txt"}}},
{"data":{"name":"tbold"},"mark":{"type":"text","font":"Open Sans","fontSize":15,"fontWeight":"bold","color":"#222222","align":"left"},"encoding":{"text":{"field":"txt"}}}
]
}
]
}
